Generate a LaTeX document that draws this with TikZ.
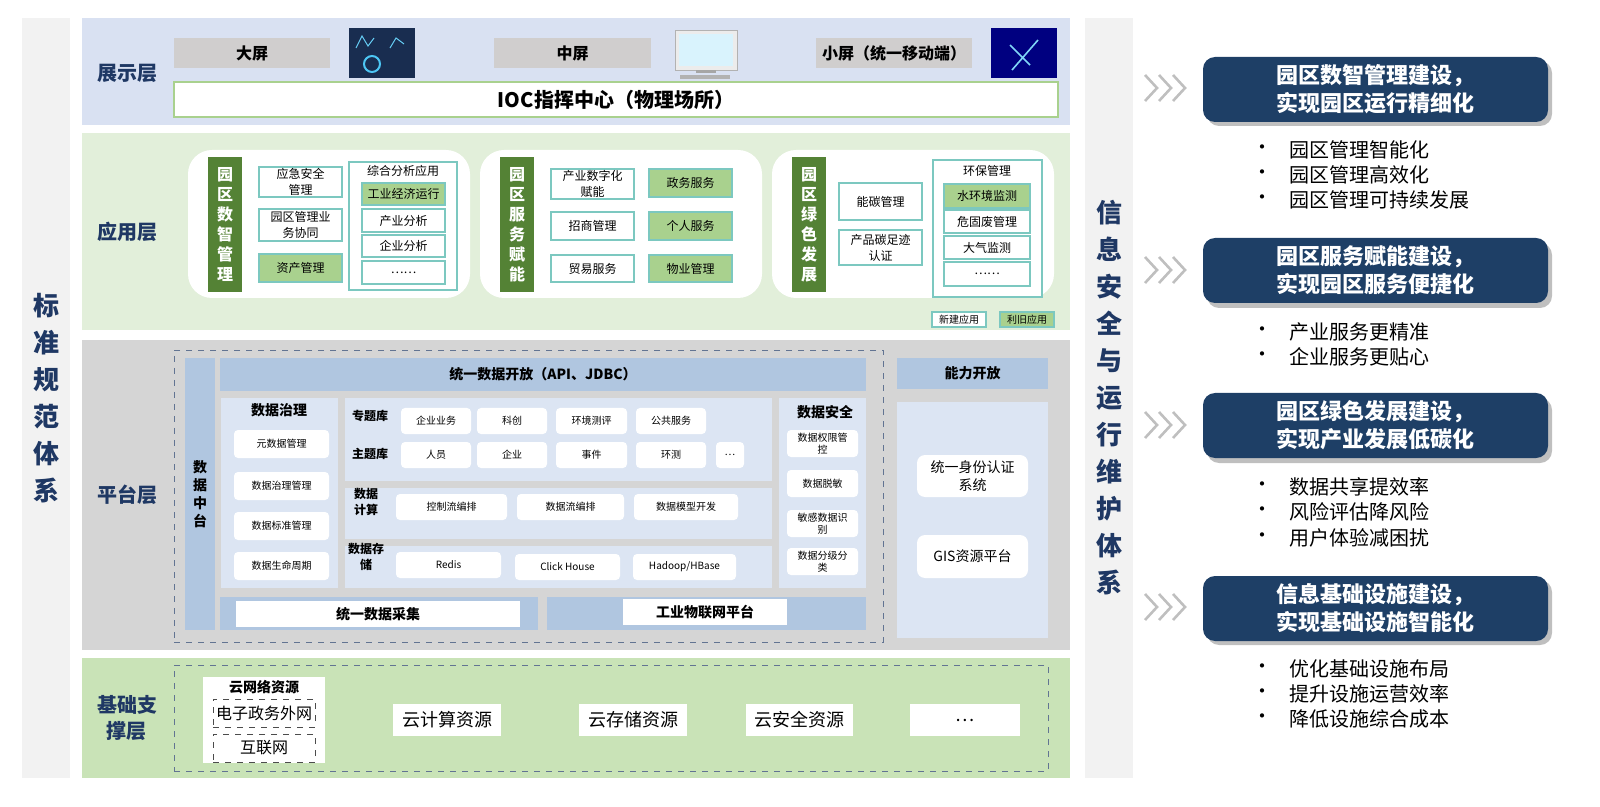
\documentclass[tikz,border=0pt]{standalone}
\usepackage{fontspec}
\setmainfont{Noto Sans CJK SC}
\usetikzlibrary{positioning}

\definecolor{navy}{HTML}{1F3864}
\definecolor{boxnavy}{HTML}{1E3F66}
\definecolor{showband}{HTML}{D9E1F2}
\definecolor{appband}{HTML}{E2EFDA}
\definecolor{platband}{HTML}{D5D5D5}
\definecolor{baseband}{HTML}{C9E3B7}
\definecolor{sidegray}{HTML}{F2F2F2}
\definecolor{screengray}{HTML}{D0CECE}
\definecolor{barg}{HTML}{548235}
\definecolor{oldg}{HTML}{A9D18E}
\definecolor{teal}{HTML}{7CC8C0}
\definecolor{steel}{HTML}{B0C6E0}
\definecolor{paleblue}{HTML}{DCE5F3}

\newcommand\fs[1]{\fontsize{#1}{\the\numexpr#1*5/4\relax}\selectfont}
% box from pixel corner (x1,y1) to (x2,y2)
\newcommand\pbox[7]{\node[#1,minimum width={(#5-#3)*0.5pt},minimum height={(#6-#4)*0.5pt},inner sep=0pt,outer sep=0pt] (#2) at ({(#3+#5)/2},{(#4+#6)/2}) {#7};}

\tikzset{
  band/.style={fill=#1,draw=none},
  scrbox/.style={fill=screengray,font=\fs{8}\bfseries},
  appbox/.style={fill=white,draw=teal,line width=0.6pt,font=\fs{6},align=center},
  oldbox/.style={appbox,fill=oldg},
  grpbox/.style={fill=white,draw=teal,line width=0.6pt},
  gbar/.style={fill=barg,text=white,font=\fs{8}\bfseries,align=center},
  layer/.style={text=navy,font=\fs{10}\bfseries,align=center},
  sbar/.style={fill=steel,font=\fs{7}\bfseries},
  pale/.style={fill=paleblue},
  wbox/.style={fill=white,rounded corners=2pt,font=\fs{5},align=center},
  resbox/.style={fill=white,font=\fs{9}},
  goalbox/.style={fill=boxnavy,rounded corners=6pt,text=white,font=\fs{11}\bfseries,align=center},
  goalshadow/.style={fill=black!25,rounded corners=6pt},
  bullet/.style={anchor=west,font=\fs{10},align=left},
  chev/.style={draw=gray!50,line width=1.3pt},
  dashbox/.style={draw=navy!70,dashed,line width=0.4pt}
}

\begin{document}
\begin{tikzpicture}[x=0.5pt,y=-0.5pt]
\useasboundingbox (0,0) rectangle (1600,807);
\clip (0,0) rectangle (1600,807);

% side bars
\pbox{band=sidegray,text=navy,font=\fontsize{13}{18.5}\selectfont\bfseries,align=center}{std}{22}{18}{70}{778}{标\\准\\规\\范\\体\\系}
\pbox{band=sidegray,text=navy,font=\fontsize{13}{18.5}\selectfont\bfseries,align=center}{ops}{1085}{18}{1133}{778}{信\\息\\安\\全\\与\\运\\行\\维\\护\\体\\系}

% 展示层
\pbox{band=showband}{show}{82}{18}{1070}{125}{}
\node[layer] (showlbl) at (127,73) {展示层};
\pbox{scrbox}{big}{174}{38}{330}{68}{大屏}
\pbox{scrbox}{mid}{494}{38}{651}{68}{中屏}
\pbox{scrbox}{small}{816}{38}{972}{68}{小屏（统一移动端）}
\pbox{fill=navy!80!black}{imgbig}{349}{28}{415}{78}{}
\draw[cyan!60,line width=0.5pt] (356,48) -- (362,36) -- (368,46) -- (374,38) (390,48) -- (396,38) -- (404,44);
\draw[cyan!70,line width=1pt] (372,64) circle (8);
\pbox{fill=gray!15,draw=gray!60}{imgmid}{675}{30}{737}{70}{}
\pbox{fill=cyan!15}{imgmidin}{679}{34}{733}{66}{}
\draw[gray!70,line width=1.5pt] (696,72) -- (716,72);
\draw[gray!60,line width=2pt] (680,77) -- (730,77);
\pbox{fill=blue!50!black}{imgsmall}{991}{28}{1057}{78}{}
\draw[cyan!50,line width=0.8pt] (1012,70) -- (1038,40) (1010,45) -- (1030,65);
\pbox{fill=white,draw=oldg,line width=0.8pt,font=\fs{10}\bfseries}{ioc}{174}{82}{1058}{117}{IOC指挥中心（物理场所）}

% 应用层
\pbox{band=appband}{app}{82}{133}{1070}{330}{}
\node[layer] (applbl) at (127,232) {应用层};
\foreach \x in {188,480,772}
  \fill[white,rounded corners=12pt] (\x,150) rectangle ({\x+282},298);
% 园区数智管理
\pbox{gbar}{mgmt}{208}{157}{242}{292}{园\\区\\数\\智\\管\\理}
\pbox{appbox}{emerg}{259}{167}{342}{197}{应急安全\\管理}
\pbox{appbox}{collab}{259}{209}{342}{241}{园区管理业\\务协同}
\pbox{oldbox}{asset}{259}{254}{342}{282}{资产管理}
\pbox{grpbox}{anagrp}{349}{162}{457}{290}{}
\node[font=\fs{6}] (anattl) at (403,171) {综合分析应用};
\pbox{oldbox}{indecon}{362}{183}{445}{205}{工业经济运行}
\pbox{appbox}{indana}{362}{209}{445}{232}{产业分析}
\pbox{appbox}{entana}{362}{235}{445}{257}{企业分析}
\pbox{appbox}{anamore}{362}{261}{445}{284}{……}
% 园区服务赋能
\pbox{gbar}{serv}{500}{157}{534}{292}{园\\区\\服\\务\\赋\\能}
\pbox{appbox}{digind}{551}{169}{634}{199}{产业数字化\\赋能}
\pbox{appbox}{invest}{551}{212}{634}{240}{招商管理}
\pbox{appbox}{trade}{551}{255}{634}{282}{贸易服务}
\pbox{oldbox}{gov}{649}{169}{732}{197}{政务服务}
\pbox{oldbox}{pers}{649}{212}{732}{240}{个人服务}
\pbox{oldbox}{prop}{649}{255}{732}{282}{物业管理}
% 园区绿色发展
\pbox{gbar}{green}{792}{157}{826}{292}{园\\区\\绿\\色\\发\\展}
\pbox{appbox}{carbon}{839}{183}{922}{220}{能碳管理}
\pbox{appbox}{footpr}{839}{230}{922}{265}{产品碳足迹\\认证}
\pbox{grpbox}{envgrp}{933}{160}{1042}{297}{}
\node[font=\fs{6}] (envttl) at (987,171) {环保管理};
\pbox{oldbox}{water}{944}{184}{1030}{208}{水环境监测}
\pbox{appbox}{waste}{944}{210}{1030}{233}{危固废管理}
\pbox{appbox}{air}{944}{236}{1030}{259}{大气监测}
\pbox{appbox}{envmore}{944}{262}{1030}{286}{……}
\pbox{appbox,font=\fs{5}}{lgnew}{932}{312}{986}{327}{新建应用}
\pbox{oldbox,font=\fs{5}}{lgold}{1000}{312}{1054}{327}{利旧应用}

% 平台层
\pbox{band=platband}{plat}{82}{340}{1070}{650}{}
\node[layer] (platlbl) at (127,495) {平台层};
\pbox{dashbox}{dmzone}{174}{350}{883}{642}{}
\pbox{sbar,align=center}{dmid}{185}{358}{215}{630}{数\\据\\中\\台}
\pbox{sbar}{open}{220}{358}{866}{391}{统一数据开放（API、JDBC）}
% 数据治理
\pbox{pale}{govpan}{221}{398}{338}{588}{}
\node[font=\fs{7}\bfseries] (govttl) at (279,410) {数据治理};
\pbox{wbox}{meta}{234}{430}{329}{458}{元数据管理}
\pbox{wbox}{dgov}{234}{472}{329}{500}{数据治理管理}
\pbox{wbox}{dstd}{234}{512}{329}{540}{数据标准管理}
\pbox{wbox}{dlife}{234}{552}{329}{580}{数据生命周期}
% 专题库 / 主题库
\pbox{pale}{libpan}{345}{398}{772}{481}{}
\node[font=\fs{6}\bfseries] (toplib) at (370,416) {专题库};
\pbox{wbox}{tent}{401}{408}{471}{434}{企业业务}
\pbox{wbox}{tinn}{477}{408}{547}{434}{科创}
\pbox{wbox}{tenv}{556}{408}{627}{434}{环境测评}
\pbox{wbox}{tpub}{636}{408}{706}{434}{公共服务}
\node[font=\fs{6}\bfseries] (sublib) at (370,454) {主题库};
\pbox{wbox}{spers}{401}{442}{471}{468}{人员}
\pbox{wbox}{sent}{477}{442}{547}{468}{企业}
\pbox{wbox}{sevt}{556}{442}{627}{468}{事件}
\pbox{wbox}{senv}{636}{442}{706}{468}{环测}
\pbox{wbox}{smore}{716}{442}{744}{468}{…}
% 数据计算
\pbox{pale}{cmppan}{345}{488}{772}{539}{}
\node[font=\fs{6}\bfseries,align=center] (cmplbl) at (366,502) {数据\\计算};
\pbox{wbox}{ctrl}{396}{494}{507}{520}{控制流编排}
\pbox{wbox}{flow}{517}{494}{624}{520}{数据流编排}
\pbox{wbox}{model}{634}{494}{738}{520}{数据模型开发}
% 数据存储
\pbox{pale}{stopan}{345}{546}{772}{588}{}
\node[font=\fs{6}\bfseries,align=center] (stolbl) at (366,557) {数据存\\储};
\pbox{wbox}{redis}{396}{552}{501}{578}{Redis}
\pbox{wbox}{click}{515}{554}{620}{580}{Click House}
\pbox{wbox}{hadoop}{633}{554}{736}{580}{Hadoop/HBase}
% 数据安全
\pbox{pale}{secpan}{779}{398}{866}{588}{}
\node[font=\fs{7}\bfseries] (secttl) at (825,412) {数据安全};
\pbox{wbox}{perm}{787}{430}{858}{457}{数据权限管\\控}
\pbox{wbox}{mask}{787}{470}{858}{497}{数据脱敏}
\pbox{wbox}{sens}{787}{510}{858}{537}{敏感数据识\\别}
\pbox{wbox}{grade}{787}{548}{858}{575}{数据分级分\\类}
% 采集 / 物联网
\pbox{sbar}{collbar}{220}{597}{538}{630}{}
\pbox{fill=white,font=\fs{7}\bfseries}{coll}{236}{601}{520}{627}{统一数据采集}
\pbox{sbar}{iotbar}{547}{597}{866}{630}{}
\pbox{fill=white,font=\fs{7}\bfseries}{iot}{623}{599}{787}{625}{工业物联网平台}
% 能力开放
\pbox{sbar}{capab}{897}{358}{1048}{389}{能力开放}
\pbox{pale}{cappan}{897}{402}{1048}{638}{}
\pbox{wbox,font=\fs{7},rounded corners=4pt}{ident}{917}{455}{1028}{497}{统一身份认证\\系统}
\pbox{wbox,font=\fs{7},rounded corners=4pt}{gis}{917}{535}{1028}{578}{GIS资源平台}

% 基础支撑层
\pbox{band=baseband}{base}{82}{658}{1070}{778}{}
\node[layer] (baselbl) at (127,718) {基础支\\撑层};
\pbox{dashbox}{basezone}{174}{665}{1048}{771}{}
\pbox{fill=white}{netres}{203}{677}{325}{763}{}
\node[font=\fs{7}\bfseries] (netttl) at (264,687) {云网络资源};
\pbox{draw=black!70,dashed,line width=0.4pt,font=\fs{8}}{govnet}{213}{699}{315}{727}{电子政务外网}
\pbox{draw=black!70,dashed,line width=0.4pt,font=\fs{8}}{inet}{213}{734}{315}{762}{互联网}
\pbox{resbox}{cloudc}{393}{704}{501}{736}{云计算资源}
\pbox{resbox}{clouds}{579}{704}{687}{736}{云存储资源}
\pbox{resbox}{cloudsec}{746}{704}{853}{736}{云安全资源}
\pbox{resbox}{cloudmore}{910}{704}{1020}{736}{…}

% 右侧目标
\foreach \y in {88,270,425,607}{
  \foreach \dx in {0,14,28}
    \draw[chev] ({1145+\dx},{\y-13}) -- ({1157+\dx},\y) -- ({1145+\dx},{\y+13});
  \fill[goalshadow] (1207,{\y-27}) rectangle (1552,{\y+38});
}
\pbox{goalbox}{goal1}{1203}{57}{1548}{122}{园区数智管理建设，\\实现园区运行精细化}
\pbox{goalbox}{goal2}{1203}{238}{1548}{303}{园区服务赋能建设，\\实现园区服务便捷化}
\pbox{goalbox}{goal3}{1203}{393}{1548}{458}{园区绿色发展建设，\\实现产业发展低碳化}
\pbox{goalbox}{goal4}{1203}{576}{1548}{641}{信息基础设施建设，\\实现基础设施智能化}
\foreach \t/\y in {园区管理智能化/150,园区管理高效化/175,园区管理可持续发展/200,
                   产业服务更精准/332,企业服务更贴心/357,
                   数据共享提效率/487,风险评估降风险/512,用户体验减困扰/538,
                   优化基础设施布局/669,提升设施运营效率/694,降低设施综合成本/719}{
  \node[bullet] at (1245,\y) {•};
  \node[bullet] at (1282,\y) {\t};
}
\end{tikzpicture}
\end{document}
